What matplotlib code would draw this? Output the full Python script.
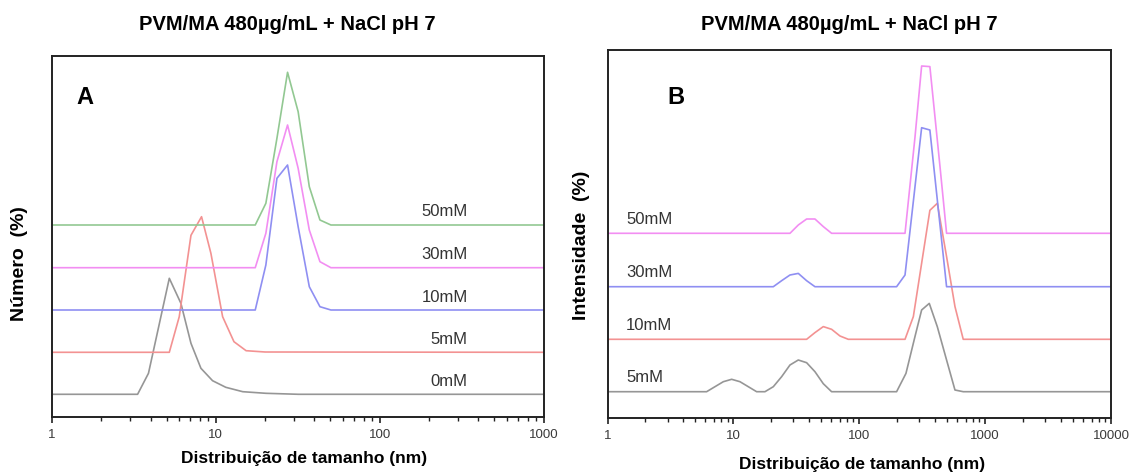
import matplotlib
matplotlib.use("Agg")
import matplotlib.pyplot as plt
from matplotlib.ticker import LogLocator, NullFormatter

plt.rcParams['font.family'] = ['Liberation Sans', 'DejaVu Sans']

# ---- panel A: number distribution (heights above each baseline) ----
a_labels = ['0mM', '5mM', '10mM', '30mM', '50mM']
a_colors = ['#969696', '#f39292', '#8f8ff2', '#f28ef2', '#92c892']
a_offsets = [22.4, 64.4, 106.7, 149.0, 191.7]

a_size_0 = [1, 3.33, 3.88, 5.2, 6.12, 7.05, 8.11, 9.55, 11.5, 14.6, 20.2, 32, 1000]
a_val_0 = [0, 0, 21, 116, 91, 51, 26, 13.6, 7, 2.6, 1, 0, 0]
a_size_5 = [1, 5.2, 5.98, 7.05, 8.18, 9.33, 11.0, 12.9, 15.3, 20, 1000]
a_val_5 = [0, 0, 35.6, 117, 135.6, 99, 35.6, 10.6, 1.6, 0.3, 0]
a_size_hi = [1, 17.4, 20.2, 23.6, 27.4, 31.8, 37.2, 43.2, 50.4, 1000]
a_val_10 = [0, 0, 45, 131.7, 145, 83.3, 23.3, 3.3, 0, 0]
a_val_30 = [0, 0, 34.4, 106, 142.7, 99.4, 37.7, 6, 0, 0]
a_val_50 = [0, 0, 21.7, 86.7, 152.7, 113.3, 38.3, 5, 0, 0]

a_sizes = [a_size_0, a_size_5, a_size_hi, a_size_hi, a_size_hi]
a_vals = [a_val_0, a_val_5, a_val_10, a_val_30, a_val_50]

# ---- panel B: intensity distribution ----
b_labels = ['5mM', '10mM', '30mM', '50mM']
b_colors = ['#969696', '#f39292', '#8f8ff2', '#f28ef2']
b_offsets = [26.6, 79.0, 131.6, 185.0]

b_size_5 = [1, 6.13, 7.14, 8.32, 9.69, 11.28, 13.14, 15.30, 17.82, 20.76, 24.17, 28.16,
            32.79, 38.19, 44.48, 51.8, 60.3, 198, 235, 277, 313, 360, 417, 494, 576, 670, 10000]
b_val_5 = [0, 0, 5, 10, 12.4, 10, 5, 0, 0, 5, 15, 26.7, 31.7, 29, 20, 8, 0, 0, 18.3, 55,
           81.7, 88.3, 65, 31.7, 1.7, 0, 0]
b_size_10 = [1, 38.19, 44.48, 51.8, 60.3, 70.3, 81.8, 231, 269, 313, 364, 417, 494, 576, 670, 10000]
b_val_10 = [0, 0, 6.7, 12.7, 10, 3.3, 0, 0, 22.7, 76, 129, 136, 82.7, 32.7, 0, 0]
b_size_30 = [1, 20.76, 24.17, 28.16, 32.79, 38.19, 44.48, 198, 231, 269, 313, 364, 424, 494, 10000]
b_val_30 = [0, 0, 6, 11.7, 13.3, 6, 0, 0, 11.7, 85.3, 159, 156.7, 78.3, 0, 0]
b_size_50 = [1, 28.16, 32.79, 38.19, 44.48, 51.8, 60.3, 231, 277, 313, 364, 438, 494, 10000]
b_val_50 = [0, 0, 8.3, 14.3, 14.3, 6.7, 0, 0, 95.7, 167.3, 166.7, 66.7, 0, 0]

b_sizes = [b_size_5, b_size_10, b_size_30, b_size_50]
b_vals = [b_val_5, b_val_10, b_val_30, b_val_50]

title = 'PVM/MA 480µg/mL + NaCl pH 7'
xlabel = 'Distribuição de tamanho (nm)'


def style_axis(ax, xmax, ymax):
    ax.set_xscale('log')
    ax.set_xlim(1, xmax)
    ax.set_ylim(0, ymax)
    ax.set_yticks([])
    for s in ax.spines.values():
        s.set_linewidth(1.4)
        s.set_color('#222222')
    ax.xaxis.set_minor_locator(LogLocator(base=10, subs=range(2, 10), numticks=20))
    ax.xaxis.set_minor_formatter(NullFormatter())
    majors = [10 ** k for k in range(len(str(xmax)))]
    ax.set_xticks(majors, [str(m) for m in majors])
    ax.tick_params(axis='x', which='major', direction='out', length=4.5, width=1.2,
                   labelsize=9.5, pad=4, colors='#222222')
    ax.tick_params(axis='x', which='minor', direction='out', length=2.8, width=1.0,
                   colors='#222222')
    ax.tick_params(axis='x', labelcolor='#3a3a3a')


fig = plt.figure(figsize=(11.33, 4.75), dpi=100)
axA = fig.add_axes([52 / 1133, 1 - 416.7 / 475, 491.5 / 1133, 361 / 475])
axB = fig.add_axes([607.5 / 1133, 1 - 418.3 / 475, 503.5 / 1133, 368.3 / 475])

for sz, v, off, c in zip(a_sizes, a_vals, a_offsets, a_colors):
    axA.plot(sz, [off + y for y in v], color=c, lw=1.2)
for lab, off in zip(a_labels, a_offsets):
    axA.text(345, off + 13, lab, ha='right', va='center', fontsize=12, color='#333333')
style_axis(axA, 1000, 361)
axA.text(0.05, 0.885, 'A', transform=axA.transAxes, fontsize=17, fontweight='bold',
         ha='left', va='center')

for sz, v, off, c in zip(b_sizes, b_vals, b_offsets, b_colors):
    axB.plot(sz, [off + y for y in v], color=c, lw=1.2)
for lab, off in zip(b_labels, b_offsets):
    axB.text(1.4, off + 14, lab, ha='left', va='center', fontsize=12, color='#333333')
style_axis(axB, 10000, 368.3)
axB.text(0.118, 0.87, 'B', transform=axB.transAxes, fontsize=17, fontweight='bold',
         ha='left', va='center')

fig.text(287 / 1133, 1 - 25 / 475, title, ha='center', va='center', fontsize=14.5, fontweight='bold')
fig.text(849 / 1133, 1 - 25 / 475, title, ha='center', va='center', fontsize=14.5, fontweight='bold')
fig.text(304 / 1133, 1 - 458 / 475, xlabel, ha='center', va='center', fontsize=12.5, fontweight='bold')
fig.text(862 / 1133, 1 - 464 / 475, xlabel, ha='center', va='center', fontsize=12.5, fontweight='bold')
fig.text(20 / 1133, 1 - 264 / 475, 'Número  (%)', rotation=90, ha='center', va='center',
         fontsize=14, fontweight='bold')
fig.text(582 / 1133, 1 - 245 / 475, 'Intensidade  (%)', rotation=90, ha='center', va='center',
         fontsize=14, fontweight='bold')

fig.savefig('out.png', dpi=100)
